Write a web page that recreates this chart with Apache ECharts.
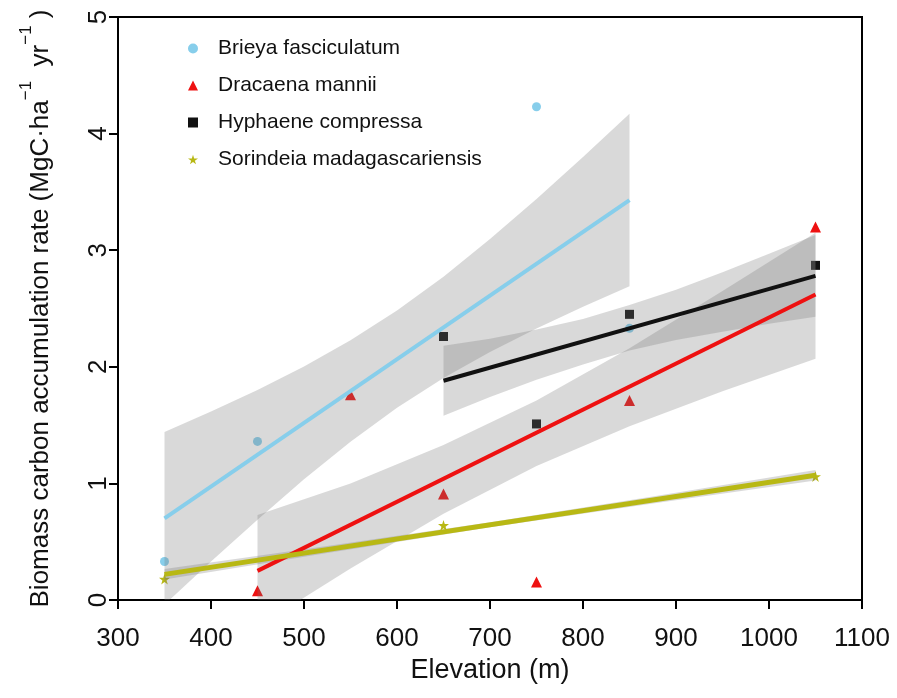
<!DOCTYPE html>
<html>
<head>
<meta charset="utf-8">
<script src="https://cdn.jsdelivr.net/npm/echarts@6/dist/echarts.min.js"></script>
<style>html,body{margin:0;padding:0;background:#fff;}#c{width:897px;height:698px;}</style>
</head>
<body>
<div id="c"></div>
<script>
// ---- data ----
const speciesNames = ['Brieya fasciculatum', 'Dracaena mannii', 'Hyphaene compressa', 'Sorindeia madagascariensis'];

const brieyaX = [350, 450, 750, 850];
const brieyaY = [0.33, 1.36, 4.23, 2.33];
const dracaenaX = [450, 550, 650, 750, 850, 1050];
const dracaenaY = [0.08, 1.76, 0.91, 0.155, 1.71, 3.20];
const hyphaeneX = [650, 750, 850, 1050];
const hyphaeneY = [2.26, 1.51, 2.45, 2.87];
const sorindeiaX = [350, 650, 1050];
const sorindeiaY = [0.18, 0.64, 1.06];

// fitted lines (start, end)
const brieyaFit = [[350, 0.70], [850, 3.43]];
const dracaenaFit = [[450, 0.25], [1050, 2.62]];
const hyphaeneFit = [[650, 1.88], [1050, 2.78]];
const sorindeiaFit = [[350, 0.22], [1050, 1.07]];

// confidence bands (upper / lower edges)
const brieyaBandX = [350, 400, 450, 500, 550, 600, 650, 700, 750, 800, 850];
const brieyaBandUp = [1.44, 1.616, 1.801, 2.003, 2.227, 2.482, 2.773, 3.095, 3.439, 3.80, 4.17];
const brieyaBandLo = [-0.04, 0.33, 0.689, 1.035, 1.357, 1.648, 1.903, 2.127, 2.329, 2.514, 2.69];

const dracaenaBandX = [450, 550, 650, 750, 850, 950, 1050];
const dracaenaBandUp = [0.73, 1.00, 1.33, 1.71, 2.16, 2.65, 3.15];
const dracaenaBandLo = [-0.23, 0.27, 0.74, 1.15, 1.49, 1.79, 2.07];

const hyphaeneBandX = [650, 700, 750, 800, 850, 900, 950, 1000, 1050];
const hyphaeneBandUp = [2.18, 2.24, 2.32, 2.41, 2.53, 2.66, 2.81, 2.97, 3.13];
const hyphaeneBandLo = [1.58, 1.74, 1.89, 2.02, 2.14, 2.23, 2.30, 2.37, 2.43];

const sorindeiaBandX = [350, 525, 700, 875, 1050];
const sorindeiaBandUp = [0.265, 0.4625, 0.667, 0.8875, 1.115];
const sorindeiaBandLo = [0.175, 0.4025, 0.623, 0.8275, 1.025];

const colBlue = '#87CEEB', colRed = '#EE1111', colBlack = '#111111', colYellow = '#B8B814';
const STAR = 'path://M50,0 L61,35 L98,35 L68,57 L79,91 L50,70 L21,91 L32,57 L2,35 L39,35 Z';
const FONT = 'Liberation Sans';

function pairs(xs, ys) { return xs.map((x, i) => [x, ys[i]]); }

function bandSeries(xs, up, lo) {
  return {
    type: 'custom', silent: true, z: 2, clip: true,
    data: [[xs[0], up[0]]],
    renderItem: function (params, api) {
      const pts = [];
      for (let i = 0; i < xs.length; i++) pts.push(api.coord([xs[i], up[i]]));
      for (let i = xs.length - 1; i >= 0; i--) pts.push(api.coord([xs[i], lo[i]]));
      const cs = params.coordSys;
      return {
        type: 'polygon', shape: { points: pts },
        style: { fill: 'rgba(120,120,120,0.28)' },
        clipPath: { type: 'rect', shape: { x: cs.x, y: cs.y, width: cs.width, height: cs.height } }
      };
    }
  };
}
function fitSeries(name, pts, color, w, z) {
  return { type: 'line', name: name, data: pts, showSymbol: false, silent: true, z: z,
    lineStyle: { color: color, width: w }, itemStyle: { color: color } };
}
function pointSeries(name, xs, ys, symbol, size, color) {
  return { type: 'scatter', name: name, data: pairs(xs, ys), symbol: symbol, symbolSize: size, z: 1,
    itemStyle: { color: color, opacity: 1 } };
}

const chart = echarts.init(document.getElementById('c'), null, { renderer: 'canvas' });
const option = {
  animation: false,
  backgroundColor: '#fff',
  grid: { left: 118, right: 35, top: 17, bottom: 98, show: true, borderColor: '#000', borderWidth: 2, backgroundColor: 'transparent' },
  legend: {
    orient: 'vertical', left: 183, top: 33, itemWidth: 10, itemHeight: 10, itemGap: 16,
    textStyle: { fontFamily: FONT, fontSize: 21, color: '#111', lineHeight: 21, padding: [0, 0, 0, 15] },
    data: [
      { name: speciesNames[0], icon: 'circle' },
      { name: speciesNames[1], icon: 'triangle' },
      { name: speciesNames[2], icon: 'rect' },
      { name: speciesNames[3], icon: STAR }
    ]
  },
  xAxis: {
    type: 'value', min: 300, max: 1100, interval: 100,
    axisLine: { show: true, onZero: false, lineStyle: { color: '#000', width: 2 } },
    axisTick: { show: true, length: 9, lineStyle: { color: '#000', width: 2 } },
    axisLabel: { fontFamily: FONT, fontSize: 26, color: '#111', margin: 26, formatter: v => String(v) },
    splitLine: { show: false },
    name: 'Elevation (m)', nameLocation: 'middle', nameGap: 56,
    nameTextStyle: { fontFamily: FONT, fontSize: 27, color: '#111' }
  },
  yAxis: {
    type: 'value', min: 0, max: 5, interval: 1,
    axisLine: { show: true, onZero: false, lineStyle: { color: '#000', width: 2 } },
    axisTick: { show: true, length: 9, lineStyle: { color: '#000', width: 2 } },
    axisLabel: { fontFamily: FONT, fontSize: 26, color: '#111', margin: 6, rotate: 90, formatter: v => String(v) },
    splitLine: { show: false },
    name: '{n|Biomass carbon accumulation rate (MgC·ha}{s|−1}{n|  yr}{s|−1}{n| )}',
    nameLocation: 'middle', nameGap: 64, nameRotate: 90,
    nameTextStyle: {
      fontFamily: FONT, fontSize: 26, color: '#111',
      rich: {
        n: { fontFamily: FONT, fontSize: 26, color: '#111', lineHeight: 36, verticalAlign: 'bottom' },
        s: { fontFamily: FONT, fontSize: 17, color: '#111', lineHeight: 17, verticalAlign: 'top' }
      }
    }
  },
  series: [
    pointSeries(speciesNames[0], brieyaX, brieyaY, 'circle', 9, colBlue),
    pointSeries(speciesNames[1], dracaenaX, dracaenaY, 'triangle', 11, colRed),
    pointSeries(speciesNames[2], hyphaeneX, hyphaeneY, 'rect', 9, colBlack),
    pointSeries(speciesNames[3], sorindeiaX, sorindeiaY, STAR, 11, colYellow),
    bandSeries(brieyaBandX, brieyaBandUp, brieyaBandLo),
    bandSeries(dracaenaBandX, dracaenaBandUp, dracaenaBandLo),
    bandSeries(hyphaeneBandX, hyphaeneBandUp, hyphaeneBandLo),
    bandSeries(sorindeiaBandX, sorindeiaBandUp, sorindeiaBandLo),
    fitSeries('Brieya fit', brieyaFit, colBlue, 4, 3),
    fitSeries('Dracaena fit', dracaenaFit, colRed, 4, 3),
    fitSeries('Hyphaene fit', hyphaeneFit, colBlack, 4, 3),
    fitSeries('Sorindeia fit', sorindeiaFit, colYellow, 5, 4)
  ]
};
chart.setOption(option);
</script>
</body>
</html>
